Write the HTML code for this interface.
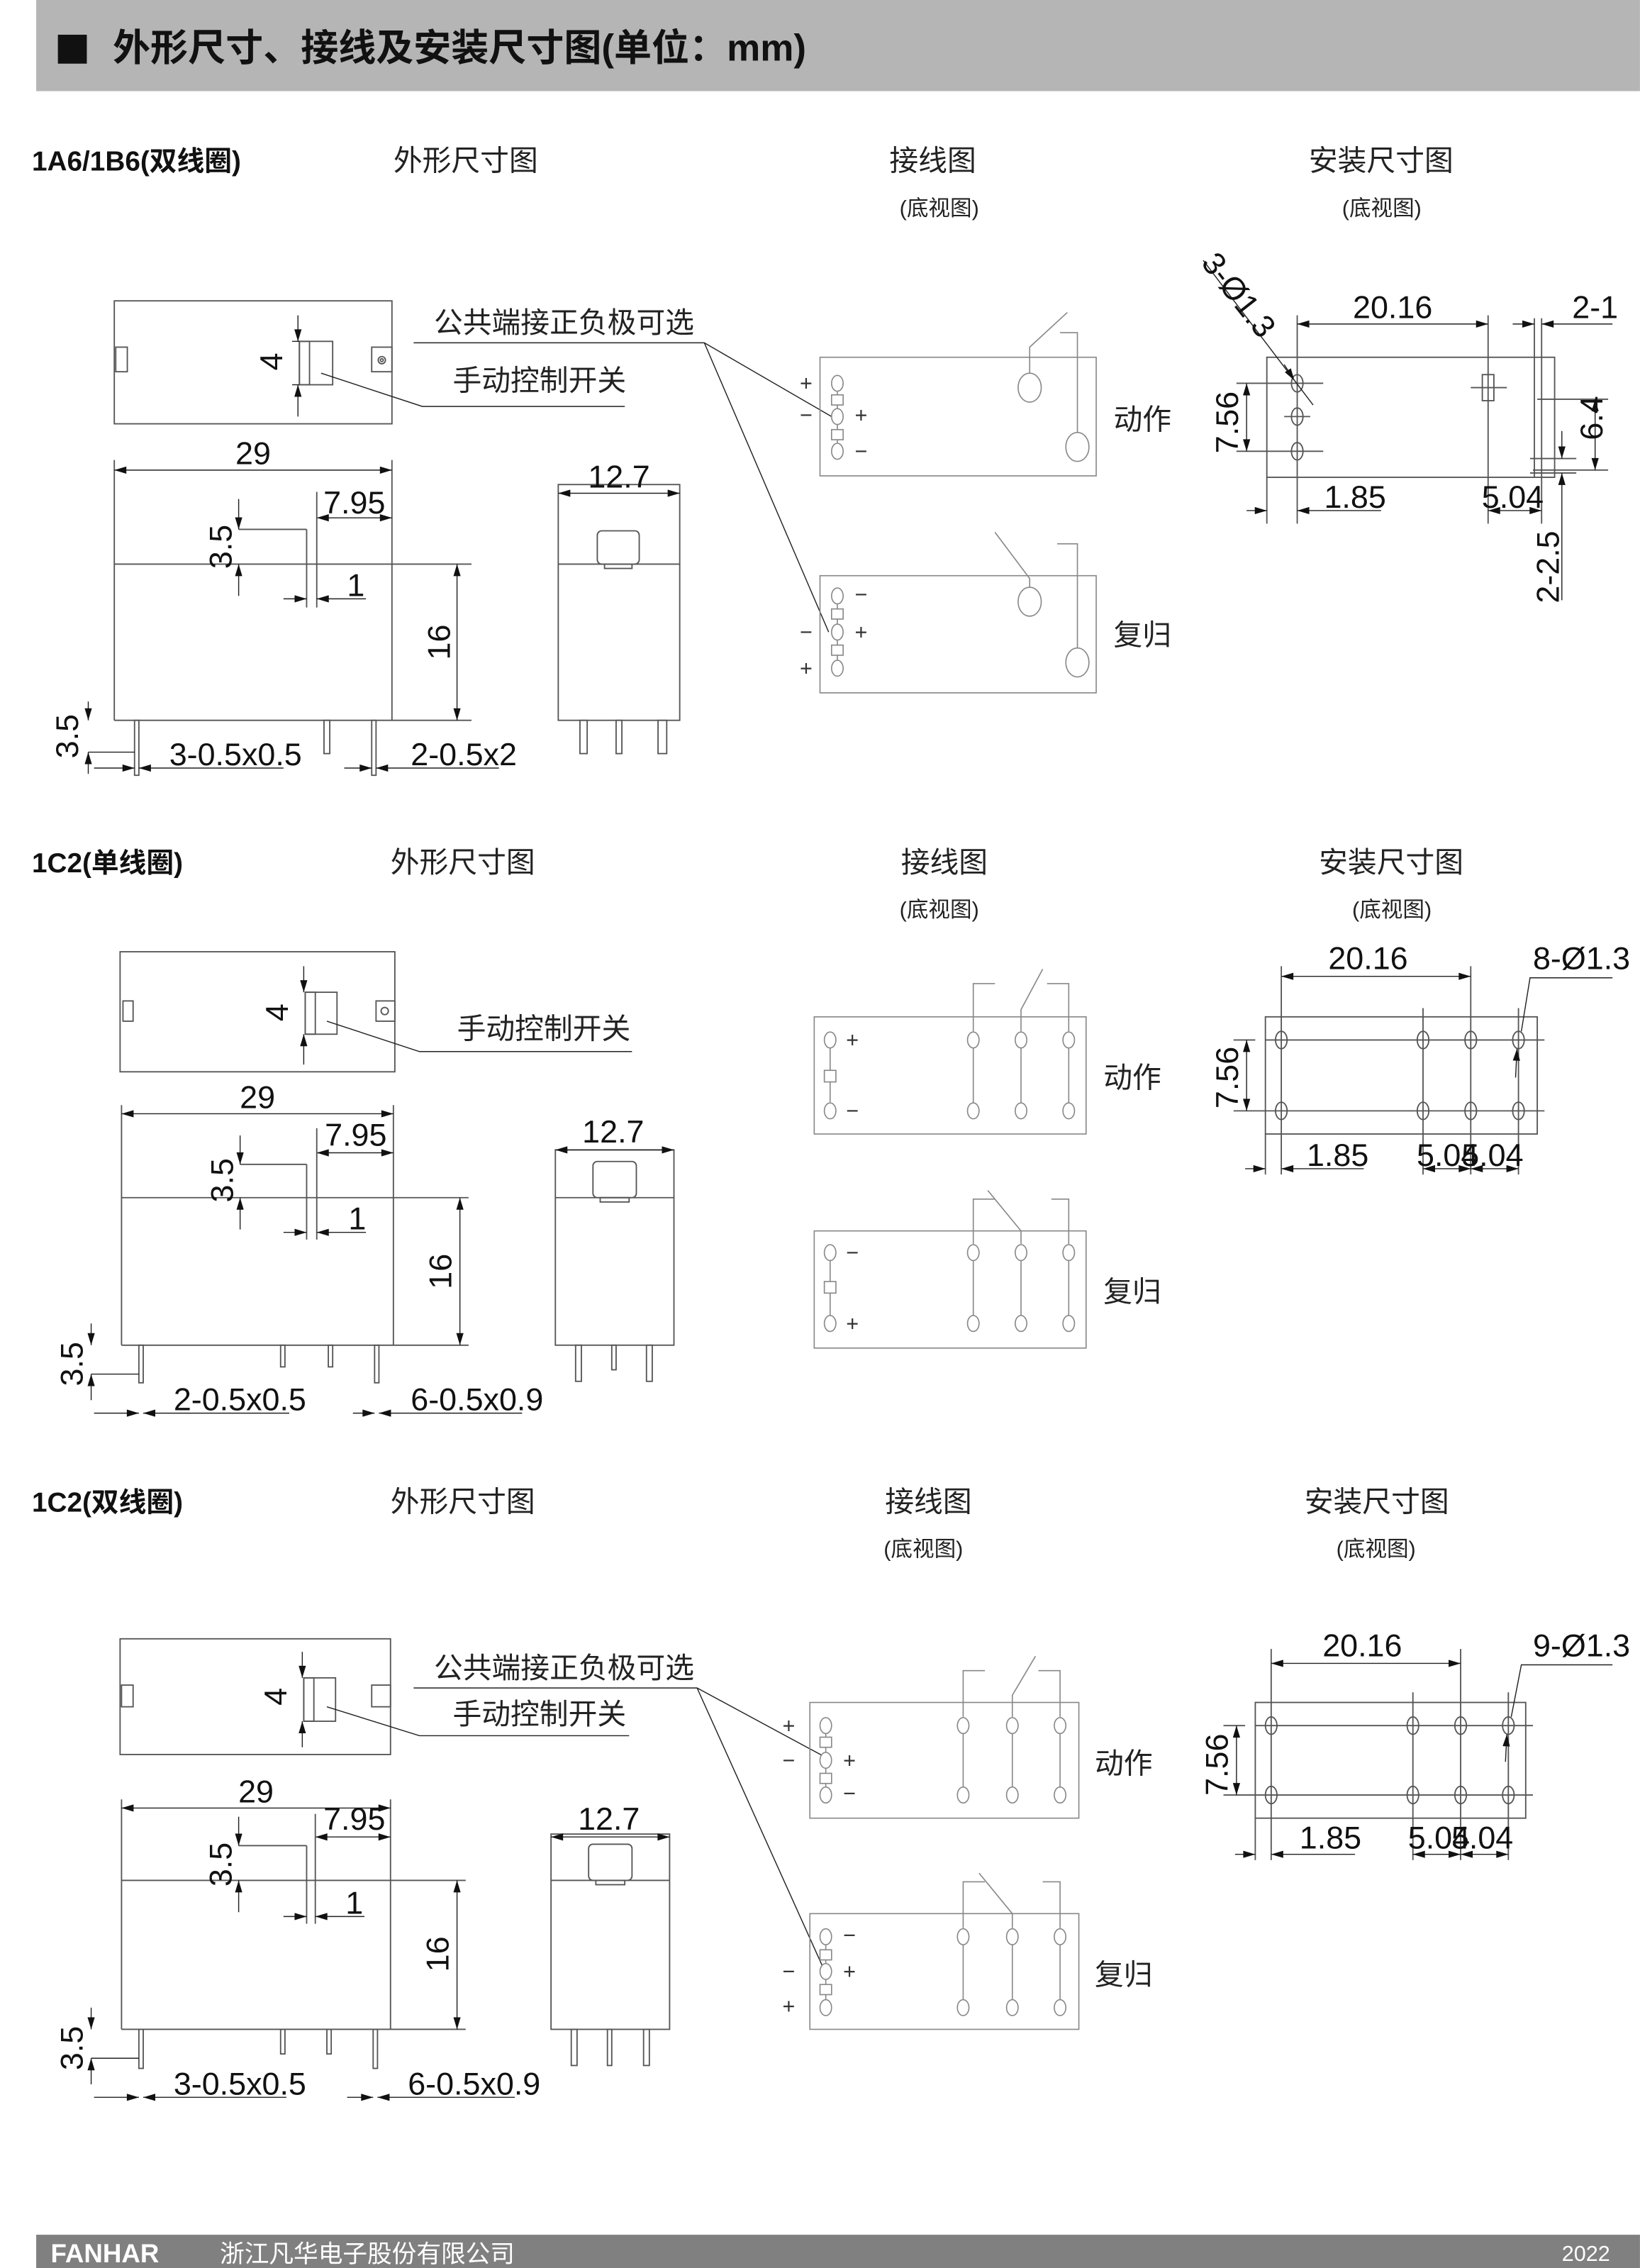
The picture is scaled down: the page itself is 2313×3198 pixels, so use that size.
<!DOCTYPE html>
<html><head><meta charset="utf-8">
<style>
html,body{margin:0;padding:0;background:#fff;}
svg{display:block;}
.t{font-family:"Liberation Sans","Noto Sans CJK SC",sans-serif;}
.cn{font-family:"Liberation Sans","Noto Sans CJK SC",sans-serif;font-size:20px;fill:#222;}
.cs{font-family:"Liberation Sans","Noto Sans CJK SC",sans-serif;font-size:15px;fill:#222;}
.d{font-family:"Liberation Sans Narrow","Liberation Sans",sans-serif;font-size:22px;fill:#111;}
.b{font-family:"Liberation Sans","Noto Sans CJK SC",sans-serif;font-size:19px;font-weight:bold;fill:#111;}
.s{fill:none;stroke:#555;stroke-width:0.9;}
.g{fill:none;stroke:#888;stroke-width:0.8;}
.k{fill:none;stroke:#222;stroke-width:0.7;}
.dm{fill:none;stroke:#222;stroke-width:0.7;marker-start:url(#a);marker-end:url(#a);}
.de{fill:none;stroke:#222;stroke-width:0.7;marker-end:url(#a);}
.sg{font-family:"Liberation Sans",sans-serif;font-size:15px;fill:#333;}
</style></head><body>
<svg width="2313" height="3198" viewBox="0 0 1134 1568" xmlns="http://www.w3.org/2000/svg">
<defs>
<marker id="a" viewBox="0 0 10 6" refX="10" refY="3" markerWidth="12" markerHeight="5" markerUnits="userSpaceOnUse" orient="auto-start-reverse"><path d="M0,0L10,3L0,6z" fill="#111"/></marker>
</defs>
<rect width="1134" height="1568" fill="#fff"/>
<!-- header -->
<rect x="25" y="0" width="1109" height="63" fill="#b5b5b5"/>
<rect x="40" y="24" width="20" height="20" fill="#111"/>
<text x="78" y="42" class="t" font-size="26" font-weight="bold" fill="#111">外形尺寸、接线及安装尺寸图(单位：mm)</text>
<!-- footer -->
<rect x="25" y="1545" width="1109" height="23" fill="#808080"/>
<text x="35" y="1564" class="t" font-size="18" font-weight="bold" fill="#fff">FANHAR</text>
<text x="152" y="1564" class="t" font-size="17" fill="#fff">浙江凡华电子股份有限公司</text>
<text x="1080" y="1563" class="t" font-size="15" fill="#fff">2022</text>

<!-- ============ SECTION 1 ============ -->
<text x="22" y="118" class="b">1A6/1B6(双线圈)</text>
<text x="272" y="118" class="cn">外形尺寸图</text>
<text x="615" y="118" class="cn">接线图</text>
<text x="622" y="149" class="cs">(底视图)</text>
<text x="905" y="118" class="cn">安装尺寸图</text>
<text x="928" y="149" class="cs">(底视图)</text>

<rect x="79" y="208" width="192" height="85" class="s"/>
<rect x="80" y="240" width="8" height="17" class="s"/>
<rect x="257" y="240" width="14" height="17" class="s"/>
<circle cx="264" cy="249" r="2.5" class="s"/><circle cx="264" cy="249" r="1" class="s"/>
<rect x="207" y="236" width="23" height="30" class="s"/>
<rect x="207" y="236" width="7" height="30" class="s"/>
<line x1="206" y1="218" x2="206" y2="236" class="de"/>
<line x1="206" y1="288" x2="206" y2="266" class="de"/>
<line x1="202" y1="236" x2="207" y2="236" class="k"/><line x1="202" y1="266" x2="207" y2="266" class="k"/>
<text transform="translate(195,250) rotate(-90)" class="d" text-anchor="middle">4</text>
<polyline points="222,258 292,281 432,281" class="k"/>
<text x="313" y="270" class="cn">手动控制开关</text>
<text x="300" y="230" class="cn">公共端接正负极可选</text>
<polyline points="286,237 487,237 575,288" class="k"/>
<line x1="487" y1="237" x2="573" y2="437" class="k"/>
<line x1="79" y1="318" x2="79" y2="498" class="s"/>
<line x1="271" y1="318" x2="271" y2="498" class="s"/>
<line x1="79" y1="390" x2="326" y2="390" class="s"/>
<line x1="79" y1="498" x2="326" y2="498" class="s"/>
<line x1="79" y1="325" x2="271" y2="325" class="dm"/>
<text x="175" y="321" class="d" text-anchor="middle">29</text>
<line x1="219" y1="358" x2="271" y2="358" class="dm"/>
<text x="245" y="355" class="d" text-anchor="middle">7.95</text>
<line x1="212" y1="366" x2="212" y2="420" class="s"/><line x1="219" y1="340" x2="219" y2="420" class="s"/>
<line x1="165" y1="366" x2="212" y2="366" class="s"/>
<line x1="165" y1="345" x2="165" y2="366" class="de"/>
<line x1="165" y1="412" x2="165" y2="390" class="de"/>
<text transform="translate(160,378) rotate(-90)" class="d" text-anchor="middle">3.5</text>
<line x1="196" y1="414" x2="212" y2="414" class="de"/>
<line x1="253" y1="414" x2="219" y2="414" class="de"/>
<text x="246" y="412" class="d" text-anchor="middle">1</text>
<line x1="316" y1="390" x2="316" y2="498" class="dm"/>
<text transform="translate(311,444) rotate(-90)" class="d" text-anchor="middle">16</text>
<rect x="93" y="498" width="3" height="38" class="s"/>
<rect x="224" y="498" width="4" height="23" class="s"/>
<rect x="257" y="498" width="3" height="38" class="s"/>
<line x1="61" y1="485" x2="61" y2="498" class="de"/>
<line x1="61" y1="535" x2="61" y2="520" class="de"/>
<line x1="61" y1="520" x2="93" y2="520" class="k"/>
<text transform="translate(54,509) rotate(-90)" class="d" text-anchor="middle">3.5</text>
<line x1="65" y1="531" x2="93" y2="531" class="de"/>
<line x1="196" y1="531" x2="96" y2="531" class="de"/>
<text x="117" y="529" class="d">3-0.5x0.5</text>
<line x1="238" y1="531" x2="257" y2="531" class="de"/>
<line x1="345" y1="531" x2="260" y2="531" class="de"/>
<text x="284" y="529" class="d">2-0.5x2</text>
<rect x="386" y="335" width="84" height="163" class="s"/>
<line x1="386" y1="390" x2="470" y2="390" class="s"/>
<rect x="413" y="367" width="29" height="23" rx="3" class="s"/>
<rect x="418" y="390" width="19" height="3" class="s"/>
<line x1="386" y1="341" x2="470" y2="341" class="dm"/>
<text x="428" y="337" class="d" text-anchor="middle">12.7</text>
<rect x="401" y="498" width="5" height="23" class="s"/>
<rect x="426" y="498" width="4" height="23" class="s"/>
<rect x="455" y="498" width="6" height="23" class="s"/>
<g class="g">
<rect x="567" y="247" width="191" height="82"/>
<line x1="579" y1="271" x2="579" y2="306"/>
<ellipse cx="579" cy="265" rx="4" ry="5.5" fill="#fff"/>
<rect x="575" y="273" width="8" height="7" fill="#fff"/>
<ellipse cx="579" cy="288" rx="4" ry="5.5" fill="#fff"/>
<rect x="575" y="297" width="8" height="7" fill="#fff"/>
<ellipse cx="579" cy="312" rx="4" ry="5.5" fill="#fff"/>
<ellipse cx="712" cy="268" rx="8" ry="10"/>
<ellipse cx="745" cy="309" rx="8" ry="10"/>
<polyline points="712,258 712,240 738,216"/>
<polyline points="733,230 745,230 745,299"/>
</g>
<text x="553" y="270" class="sg">+</text><text x="553" y="292" class="sg">−</text>
<text x="591" y="292" class="sg">+</text><text x="591" y="317" class="sg">−</text>
<text x="770" y="297" class="cn">动作</text>
<g class="g">
<rect x="567" y="398" width="191" height="81"/>
<line x1="579" y1="416" x2="579" y2="458"/>
<ellipse cx="579" cy="412" rx="4" ry="5.5" fill="#fff"/>
<rect x="575" y="421" width="8" height="7" fill="#fff"/>
<ellipse cx="579" cy="437" rx="4" ry="5.5" fill="#fff"/>
<rect x="575" y="446" width="8" height="7" fill="#fff"/>
<ellipse cx="579" cy="462" rx="4" ry="5.5" fill="#fff"/>
<ellipse cx="712" cy="416" rx="8" ry="10"/>
<ellipse cx="745" cy="458" rx="8" ry="10"/>
<polyline points="712,406 712,400 688,368"/>
<polyline points="731,376 745,376 745,448"/>
</g>
<text x="591" y="416" class="sg">−</text><text x="553" y="442" class="sg">−</text>
<text x="591" y="442" class="sg">+</text><text x="553" y="467" class="sg">+</text>
<text x="770" y="446" class="cn">复归</text>
<g class="s">
<rect x="876" y="247" width="199" height="83"/>
<line x1="876" y1="330" x2="876" y2="362"/>
<ellipse cx="897" cy="265" rx="4" ry="6"/><ellipse cx="897" cy="288" rx="4" ry="6"/><ellipse cx="897" cy="312" rx="4" ry="6"/>
<line x1="855" y1="265" x2="915" y2="265"/><line x1="888" y1="288" x2="906" y2="288"/><line x1="855" y1="312" x2="915" y2="312"/>
<line x1="897" y1="218" x2="897" y2="362"/>
<line x1="1029" y1="218" x2="1029" y2="362"/>
<rect x="1025" y="259" width="8" height="18"/>
<line x1="1017" y1="268" x2="1042" y2="268"/>
<line x1="1061" y1="220" x2="1061" y2="330"/><line x1="1066" y1="220" x2="1066" y2="362"/>
<line x1="1063" y1="276" x2="1112" y2="276"/><line x1="1060" y1="325" x2="1112" y2="325"/>
<line x1="1058" y1="317" x2="1090" y2="317"/><line x1="1058" y1="327" x2="1090" y2="327"/>
</g>
<line x1="897" y1="224" x2="1029" y2="224" class="dm"/>
<text x="963" y="220" class="d" text-anchor="middle">20.16</text>
<line x1="1046" y1="224" x2="1061" y2="224" class="de"/>
<line x1="1115" y1="224" x2="1066" y2="224" class="de"/>
<text x="1103" y="220" class="d" text-anchor="middle">2-1</text>
<line x1="832" y1="180" x2="908" y2="280" class="k"/>
<line x1="888" y1="252" x2="895" y2="263" class="de"/>
<text transform="translate(830,182) rotate(52)" class="d">3-Ø1.3</text>
<line x1="862" y1="265" x2="862" y2="312" class="dm"/>
<text transform="translate(856,292) rotate(-90)" class="d" text-anchor="middle">7.56</text>
<line x1="1103" y1="276" x2="1103" y2="325" class="dm"/>
<text transform="translate(1108,289) rotate(-90)" class="d" text-anchor="middle">6.4</text>
<line x1="1080" y1="298" x2="1080" y2="317" class="de"/>
<line x1="1080" y1="415" x2="1080" y2="327" class="de"/>
<text transform="translate(1078,392) rotate(-90)" class="d" text-anchor="middle">2-2.5</text>
<line x1="862" y1="353" x2="876" y2="353" class="de"/>
<line x1="955" y1="353" x2="897" y2="353" class="de"/>
<text x="937" y="351" class="d" text-anchor="middle">1.85</text>
<line x1="1029" y1="353" x2="1066" y2="353" class="dm"/>
<text x="1046" y="351" class="d" text-anchor="middle">5.04</text>

<!-- ============ SECTION 2 ============ -->
<text x="22" y="603" class="b">1C2(单线圈)</text>
<text x="270" y="603" class="cn">外形尺寸图</text>
<text x="623" y="603" class="cn">接线图</text>
<text x="622" y="634" class="cs">(底视图)</text>
<text x="912" y="603" class="cn">安装尺寸图</text>
<text x="935" y="634" class="cs">(底视图)</text>
<rect x="83" y="658" width="190" height="83" class="s"/>
<rect x="85" y="692" width="7" height="14" class="s"/>
<rect x="260" y="692" width="13" height="14" class="s"/>
<circle cx="266" cy="699" r="2.5" class="s"/>
<rect x="211" y="686" width="22" height="29" class="s"/>
<rect x="211" y="686" width="7" height="29" class="s"/>
<line x1="210" y1="668" x2="210" y2="686" class="de"/>
<line x1="210" y1="736" x2="210" y2="715" class="de"/>
<text transform="translate(199,700) rotate(-90)" class="d" text-anchor="middle">4</text>
<polyline points="226,706 290,727 437,727" class="k"/>
<text x="316" y="718" class="cn">手动控制开关</text>
<line x1="84" y1="764" x2="84" y2="930" class="s"/>
<line x1="272" y1="764" x2="272" y2="930" class="s"/>
<line x1="84" y1="828" x2="324" y2="828" class="s"/>
<line x1="84" y1="930" x2="324" y2="930" class="s"/>
<line x1="84" y1="770" x2="272" y2="770" class="dm"/>
<text x="178" y="766" class="d" text-anchor="middle">29</text>
<line x1="219" y1="797" x2="272" y2="797" class="dm"/>
<text x="246" y="792" class="d" text-anchor="middle">7.95</text>
<line x1="212" y1="805" x2="212" y2="857" class="s"/><line x1="219" y1="780" x2="219" y2="857" class="s"/>
<line x1="166" y1="805" x2="212" y2="805" class="s"/>
<line x1="166" y1="785" x2="166" y2="805" class="de"/>
<line x1="166" y1="850" x2="166" y2="828" class="de"/>
<text transform="translate(161,816) rotate(-90)" class="d" text-anchor="middle">3.5</text>
<line x1="196" y1="852" x2="212" y2="852" class="de"/>
<line x1="253" y1="852" x2="219" y2="852" class="de"/>
<text x="247" y="850" class="d" text-anchor="middle">1</text>
<line x1="318" y1="828" x2="318" y2="930" class="dm"/>
<text transform="translate(312,879) rotate(-90)" class="d" text-anchor="middle">16</text>
<rect x="96" y="930" width="3" height="26" class="s"/>
<rect x="194" y="930" width="3" height="15" class="s"/>
<rect x="227" y="930" width="3" height="15" class="s"/>
<rect x="259" y="930" width="3" height="26" class="s"/>
<line x1="63" y1="915" x2="63" y2="930" class="de"/>
<line x1="63" y1="968" x2="63" y2="950" class="de"/>
<line x1="63" y1="950" x2="96" y2="950" class="k"/>
<text transform="translate(57,943) rotate(-90)" class="d" text-anchor="middle">3.5</text>
<line x1="65" y1="977" x2="96" y2="977" class="de"/>
<line x1="200" y1="977" x2="99" y2="977" class="de"/>
<text x="120" y="975" class="d">2-0.5x0.5</text>
<line x1="244" y1="977" x2="259" y2="977" class="de"/>
<line x1="361" y1="977" x2="262" y2="977" class="de"/>
<text x="284" y="975" class="d">6-0.5x0.9</text>
<rect x="384" y="795" width="82" height="135" class="s"/>
<line x1="384" y1="828" x2="466" y2="828" class="s"/>
<rect x="410" y="803" width="30" height="25" rx="3" class="s"/>
<rect x="415" y="828" width="20" height="3" class="s"/>
<line x1="384" y1="795" x2="466" y2="795" class="dm"/>
<text x="424" y="790" class="d" text-anchor="middle">12.7</text>
<rect x="398" y="930" width="4" height="25" class="s"/>
<rect x="423" y="930" width="3" height="17" class="s"/>
<rect x="447" y="930" width="4" height="25" class="s"/>
<g class="g">
<rect x="563" y="703" width="188" height="81"/>
<line x1="574" y1="724" x2="574" y2="762"/>
<ellipse cx="574" cy="719" rx="4" ry="5.5" fill="#fff"/>
<rect x="570" y="740" width="8" height="8" fill="#fff"/>
<ellipse cx="574" cy="768" rx="4" ry="5.5" fill="#fff"/>
<line x1="673" y1="719" x2="673" y2="768"/><line x1="706" y1="719" x2="706" y2="768"/><line x1="739" y1="719" x2="739" y2="768"/>
<ellipse cx="673" cy="719" rx="4" ry="5.5" fill="#fff"/><ellipse cx="706" cy="719" rx="4" ry="5.5" fill="#fff"/><ellipse cx="739" cy="719" rx="4" ry="5.5" fill="#fff"/>
<ellipse cx="673" cy="768" rx="4" ry="5.5" fill="#fff"/><ellipse cx="706" cy="768" rx="4" ry="5.5" fill="#fff"/><ellipse cx="739" cy="768" rx="4" ry="5.5" fill="#fff"/>
<polyline points="673,713 673,680 688,680"/>
<polyline points="706,713 706,698 721,670"/>
<polyline points="724,680 739,680 739,713"/>
</g>
<text x="585" y="724" class="sg">+</text><text x="585" y="773" class="sg">−</text>
<text x="763" y="752" class="cn">动作</text>
<g class="g">
<rect x="563" y="851" width="188" height="81"/>
<line x1="574" y1="871" x2="574" y2="910"/>
<ellipse cx="574" cy="866" rx="4" ry="5.5" fill="#fff"/>
<rect x="570" y="886" width="8" height="8" fill="#fff"/>
<ellipse cx="574" cy="915" rx="4" ry="5.5" fill="#fff"/>
<line x1="673" y1="866" x2="673" y2="915"/><line x1="706" y1="866" x2="706" y2="915"/><line x1="739" y1="866" x2="739" y2="915"/>
<ellipse cx="673" cy="866" rx="4" ry="5.5" fill="#fff"/><ellipse cx="706" cy="866" rx="4" ry="5.5" fill="#fff"/><ellipse cx="739" cy="866" rx="4" ry="5.5" fill="#fff"/>
<ellipse cx="673" cy="915" rx="4" ry="5.5" fill="#fff"/><ellipse cx="706" cy="915" rx="4" ry="5.5" fill="#fff"/><ellipse cx="739" cy="915" rx="4" ry="5.5" fill="#fff"/>
<polyline points="673,860 673,829 688,829"/>
<polyline points="706,860 706,851 683,823"/>
<polyline points="727,829 739,829 739,860"/>
</g>
<text x="585" y="871" class="sg">−</text><text x="585" y="920" class="sg">+</text>
<text x="763" y="900" class="cn">复归</text>
<g class="s">
<rect x="875" y="703" width="188" height="81"/>
<line x1="853" y1="719" x2="868" y2="719"/><line x1="875" y1="719" x2="1068" y2="719"/>
<line x1="853" y1="768" x2="1068" y2="768"/>
<line x1="875" y1="784" x2="875" y2="812"/>
<line x1="886" y1="668" x2="886" y2="812"/><line x1="984" y1="697" x2="984" y2="812"/>
<line x1="1017" y1="668" x2="1017" y2="812"/><line x1="1050" y1="697" x2="1050" y2="812"/>
<ellipse cx="886" cy="719" rx="4" ry="6"/><ellipse cx="984" cy="719" rx="4" ry="6"/><ellipse cx="1017" cy="719" rx="4" ry="6"/><ellipse cx="1050" cy="719" rx="4" ry="6"/>
<ellipse cx="886" cy="768" rx="4" ry="6"/><ellipse cx="984" cy="768" rx="4" ry="6"/><ellipse cx="1017" cy="768" rx="4" ry="6"/><ellipse cx="1050" cy="768" rx="4" ry="6"/>
</g>
<line x1="886" y1="675" x2="1017" y2="675" class="dm"/>
<text x="946" y="670" class="d" text-anchor="middle">20.16</text>
<text x="1060" y="670" class="d">8-Ø1.3</text>
<polyline points="1115,676 1058,676 1052,713" class="k"/>
<line x1="1048" y1="745" x2="1049" y2="725" class="de"/>
<line x1="862" y1="719" x2="862" y2="768" class="dm"/>
<text transform="translate(856,745) rotate(-90)" class="d" text-anchor="middle">7.56</text>
<line x1="861" y1="808" x2="875" y2="808" class="de"/>
<line x1="943" y1="808" x2="886" y2="808" class="de"/>
<text x="925" y="806" class="d" text-anchor="middle">1.85</text>
<line x1="984" y1="808" x2="1017" y2="808" class="dm"/>
<line x1="1017" y1="808" x2="1050" y2="808" class="dm"/>
<text x="1001" y="806" class="d" text-anchor="middle">5.04</text>
<text x="1032" y="806" class="d" text-anchor="middle">5.04</text>

<!-- ============ SECTION 3 ============ -->
<text x="22" y="1045" class="b">1C2(双线圈)</text>
<text x="270" y="1045" class="cn">外形尺寸图</text>
<text x="612" y="1045" class="cn">接线图</text>
<text x="611" y="1076" class="cs">(底视图)</text>
<text x="902" y="1045" class="cn">安装尺寸图</text>
<text x="924" y="1076" class="cs">(底视图)</text>
<rect x="83" y="1133" width="187" height="80" class="s"/>
<rect x="84" y="1165" width="8" height="15" class="s"/>
<rect x="257" y="1165" width="13" height="15" class="s"/>
<rect x="210" y="1160" width="22" height="30" class="s"/>
<rect x="210" y="1160" width="7" height="30" class="s"/>
<line x1="209" y1="1142" x2="209" y2="1160" class="de"/>
<line x1="209" y1="1208" x2="209" y2="1190" class="de"/>
<text transform="translate(198,1173) rotate(-90)" class="d" text-anchor="middle">4</text>
<text x="300" y="1160" class="cn">公共端接正负极可选</text>
<polyline points="286,1167 482,1167 571,1215" class="k"/>
<line x1="482" y1="1167" x2="569" y2="1360" class="k"/>
<text x="313" y="1192" class="cn">手动控制开关</text>
<polyline points="226,1180 290,1200 435,1200" class="k"/>
<line x1="84" y1="1244" x2="84" y2="1403" class="s"/>
<line x1="270" y1="1244" x2="270" y2="1403" class="s"/>
<line x1="84" y1="1300" x2="322" y2="1300" class="s"/>
<line x1="84" y1="1403" x2="322" y2="1403" class="s"/>
<line x1="84" y1="1250" x2="270" y2="1250" class="dm"/>
<text x="177" y="1246" class="d" text-anchor="middle">29</text>
<line x1="218" y1="1270" x2="270" y2="1270" class="dm"/>
<text x="245" y="1265" class="d" text-anchor="middle">7.95</text>
<line x1="212" y1="1276" x2="212" y2="1330" class="s"/><line x1="218" y1="1254" x2="218" y2="1330" class="s"/>
<line x1="165" y1="1276" x2="212" y2="1276" class="s"/>
<line x1="165" y1="1256" x2="165" y2="1276" class="de"/>
<line x1="165" y1="1322" x2="165" y2="1300" class="de"/>
<text transform="translate(160,1289) rotate(-90)" class="d" text-anchor="middle">3.5</text>
<line x1="196" y1="1325" x2="212" y2="1325" class="de"/>
<line x1="252" y1="1325" x2="218" y2="1325" class="de"/>
<text x="245" y="1323" class="d" text-anchor="middle">1</text>
<line x1="316" y1="1300" x2="316" y2="1403" class="dm"/>
<text transform="translate(310,1351) rotate(-90)" class="d" text-anchor="middle">16</text>
<rect x="96" y="1403" width="3" height="27" class="s"/>
<rect x="194" y="1403" width="3" height="17" class="s"/>
<rect x="226" y="1403" width="3" height="17" class="s"/>
<rect x="258" y="1403" width="3" height="27" class="s"/>
<line x1="63" y1="1388" x2="63" y2="1403" class="de"/>
<line x1="63" y1="1441" x2="63" y2="1423" class="de"/>
<line x1="63" y1="1423" x2="96" y2="1423" class="k"/>
<text transform="translate(57,1416) rotate(-90)" class="d" text-anchor="middle">3.5</text>
<line x1="65" y1="1450" x2="96" y2="1450" class="de"/>
<line x1="198" y1="1450" x2="99" y2="1450" class="de"/>
<text x="120" y="1448" class="d">3-0.5x0.5</text>
<line x1="240" y1="1450" x2="258" y2="1450" class="de"/>
<line x1="356" y1="1450" x2="261" y2="1450" class="de"/>
<text x="282" y="1448" class="d">6-0.5x0.9</text>
<rect x="381" y="1268" width="82" height="135" class="s"/>
<line x1="381" y1="1300" x2="463" y2="1300" class="s"/>
<rect x="407" y="1275" width="30" height="25" rx="3" class="s"/>
<rect x="412" y="1300" width="20" height="3" class="s"/>
<line x1="381" y1="1270" x2="463" y2="1270" class="dm"/>
<text x="421" y="1265" class="d" text-anchor="middle">12.7</text>
<rect x="395" y="1403" width="4" height="25" class="s"/>
<rect x="420" y="1403" width="3" height="25" class="s"/>
<rect x="445" y="1403" width="4" height="25" class="s"/>
<g class="g">
<rect x="560" y="1177" width="186" height="80"/>
<line x1="571" y1="1197" x2="571" y2="1237"/>
<ellipse cx="571" cy="1193" rx="4" ry="5.5" fill="#fff"/>
<rect x="567" y="1201" width="8" height="7" fill="#fff"/>
<ellipse cx="571" cy="1217" rx="4" ry="5.5" fill="#fff"/>
<rect x="567" y="1226" width="8" height="7" fill="#fff"/>
<ellipse cx="571" cy="1241" rx="4" ry="5.5" fill="#fff"/>
<line x1="666" y1="1193" x2="666" y2="1241"/><line x1="700" y1="1193" x2="700" y2="1241"/><line x1="733" y1="1193" x2="733" y2="1241"/>
<ellipse cx="666" cy="1193" rx="4" ry="5.5" fill="#fff"/><ellipse cx="700" cy="1193" rx="4" ry="5.5" fill="#fff"/><ellipse cx="733" cy="1193" rx="4" ry="5.5" fill="#fff"/>
<ellipse cx="666" cy="1241" rx="4" ry="5.5" fill="#fff"/><ellipse cx="700" cy="1241" rx="4" ry="5.5" fill="#fff"/><ellipse cx="733" cy="1241" rx="4" ry="5.5" fill="#fff"/>
<polyline points="666,1187 666,1155 681,1155"/>
<polyline points="700,1187 700,1172 716,1145"/>
<polyline points="718,1155 733,1155 733,1187"/>
</g>
<text x="541" y="1198" class="sg">+</text><text x="541" y="1222" class="sg">−</text>
<text x="583" y="1222" class="sg">+</text><text x="583" y="1245" class="sg">−</text>
<text x="757" y="1226" class="cn">动作</text>
<g class="g">
<rect x="560" y="1323" width="186" height="80"/>
<line x1="571" y1="1343" x2="571" y2="1384"/>
<ellipse cx="571" cy="1339" rx="4" ry="5.5" fill="#fff"/>
<rect x="567" y="1348" width="8" height="7" fill="#fff"/>
<ellipse cx="571" cy="1363" rx="4" ry="5.5" fill="#fff"/>
<rect x="567" y="1372" width="8" height="7" fill="#fff"/>
<ellipse cx="571" cy="1388" rx="4" ry="5.5" fill="#fff"/>
<line x1="666" y1="1339" x2="666" y2="1388"/><line x1="700" y1="1339" x2="700" y2="1388"/><line x1="733" y1="1339" x2="733" y2="1388"/>
<ellipse cx="666" cy="1339" rx="4" ry="5.5" fill="#fff"/><ellipse cx="700" cy="1339" rx="4" ry="5.5" fill="#fff"/><ellipse cx="733" cy="1339" rx="4" ry="5.5" fill="#fff"/>
<ellipse cx="666" cy="1388" rx="4" ry="5.5" fill="#fff"/><ellipse cx="700" cy="1388" rx="4" ry="5.5" fill="#fff"/><ellipse cx="733" cy="1388" rx="4" ry="5.5" fill="#fff"/>
<polyline points="666,1333 666,1301 681,1301"/>
<polyline points="700,1333 700,1323 677,1295"/>
<polyline points="721,1301 733,1301 733,1333"/>
</g>
<text x="583" y="1343" class="sg">−</text><text x="541" y="1368" class="sg">−</text>
<text x="583" y="1368" class="sg">+</text><text x="541" y="1392" class="sg">+</text>
<text x="757" y="1372" class="cn">复归</text>
<g class="s">
<rect x="868" y="1177" width="187" height="80"/>
<line x1="846" y1="1193" x2="861" y2="1193"/><line x1="868" y1="1193" x2="1060" y2="1193"/>
<line x1="846" y1="1241" x2="1060" y2="1241"/>
<line x1="868" y1="1257" x2="868" y2="1286"/>
<line x1="879" y1="1140" x2="879" y2="1286"/><line x1="977" y1="1170" x2="977" y2="1286"/>
<line x1="1010" y1="1140" x2="1010" y2="1286"/><line x1="1043" y1="1170" x2="1043" y2="1286"/>
<ellipse cx="879" cy="1193" rx="4" ry="6"/><ellipse cx="977" cy="1193" rx="4" ry="6"/><ellipse cx="1010" cy="1193" rx="4" ry="6"/><ellipse cx="1043" cy="1193" rx="4" ry="6"/>
<ellipse cx="879" cy="1241" rx="4" ry="6"/><ellipse cx="977" cy="1241" rx="4" ry="6"/><ellipse cx="1010" cy="1241" rx="4" ry="6"/><ellipse cx="1043" cy="1241" rx="4" ry="6"/>
</g>
<line x1="879" y1="1150" x2="1010" y2="1150" class="dm"/>
<text x="942" y="1145" class="d" text-anchor="middle">20.16</text>
<text x="1060" y="1145" class="d">9-Ø1.3</text>
<polyline points="1115,1151 1052,1151 1045,1187" class="k"/>
<line x1="1041" y1="1218" x2="1042" y2="1199" class="de"/>
<line x1="855" y1="1193" x2="855" y2="1241" class="dm"/>
<text transform="translate(849,1220) rotate(-90)" class="d" text-anchor="middle">7.56</text>
<line x1="854" y1="1282" x2="868" y2="1282" class="de"/>
<line x1="937" y1="1282" x2="879" y2="1282" class="de"/>
<text x="920" y="1278" class="d" text-anchor="middle">1.85</text>
<line x1="977" y1="1282" x2="1010" y2="1282" class="dm"/>
<line x1="1010" y1="1282" x2="1043" y2="1282" class="dm"/>
<text x="995" y="1278" class="d" text-anchor="middle">5.04</text>
<text x="1025" y="1278" class="d" text-anchor="middle">5.04</text>
</svg>
</body></html>
